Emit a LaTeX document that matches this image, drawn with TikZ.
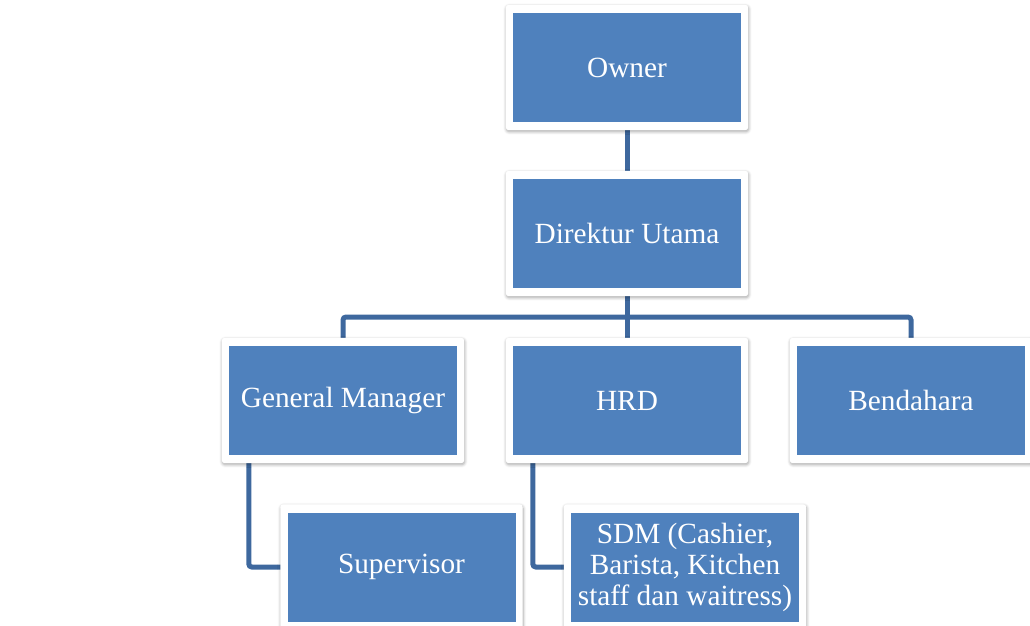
\documentclass[tikz,border=0pt]{standalone}
\usepackage{fontspec}
\setmainfont{Liberation Serif}
\usetikzlibrary{shadows.blur,calc}
\definecolor{boxblue}{RGB}{79,129,189}
\definecolor{lineblue}{RGB}{62,104,158}
\pgfdeclarelayer{lines}
\pgfdeclarelayer{frames}
\pgfsetlayers{lines,frames,main}
\tikzset{
  unit/.style={fill=boxblue, text=white, minimum width=228pt, minimum height=109pt,
    inner sep=0pt, align=center, font=\fontsize{29.3}{31}\selectfont},
  frame/.style={fill=white, rounded corners=3pt,
    blur shadow={shadow xshift=0.5pt, shadow yshift=-1.5pt, shadow blur radius=3pt,
      shadow blur steps=6, shadow opacity=35}},
  conn/.style={draw=lineblue, line width=5pt, rounded corners=3pt}
}
\begin{document}
\begin{tikzpicture}[x=1pt,y=-1pt]
\useasboundingbox (0,0) rectangle (1030,626);
\node[unit] (owner) at (627,67.5) {Owner};
\node[unit] (dir) at (627,233.5) {Direktur Utama};
\node[unit] (gm) at (343,400.5) {General Manager};
\node[unit] (hrd) at (627,400.5) {HRD};
\node[unit] (bend) at (911,400.5) {Bendahara};
\node[unit] (sup) at (401.5,567) {Supervisor};
\node[unit] (sdm) at (685,567) {SDM (Cashier,\\Barista, Kitchen\\staff dan waitress)};
\begin{pgfonlayer}{frames}
\foreach \n in {owner,dir,gm,hrd,bend,sup,sdm}{
  \path[frame] ($(\n.north west)+(-7,-8)$) rectangle ($(\n.south east)+(7,8)$);
}
\end{pgfonlayer}
\coordinate (busy) at (0,317);
\coordinate (gmleft) at ($(gm.south west)+(20,0)$);
\coordinate (hrdleft) at ($(hrd.south west)+(20,0)$);
\begin{pgfonlayer}{lines}
\draw[conn] (owner.south) -- (dir.north);
\draw[conn] (dir.south) -- (dir.south |- busy);
\draw[conn] (gm.north) -- (gm.north |- busy) -- (bend.north |- busy) -- (bend.north);
\draw[conn] (hrd.north |- busy) -- (hrd.north);
\draw[conn] (gmleft) |- (sup.west);
\draw[conn] (hrdleft) |- (sdm.west);
\end{pgfonlayer}
\end{tikzpicture}
\end{document}
